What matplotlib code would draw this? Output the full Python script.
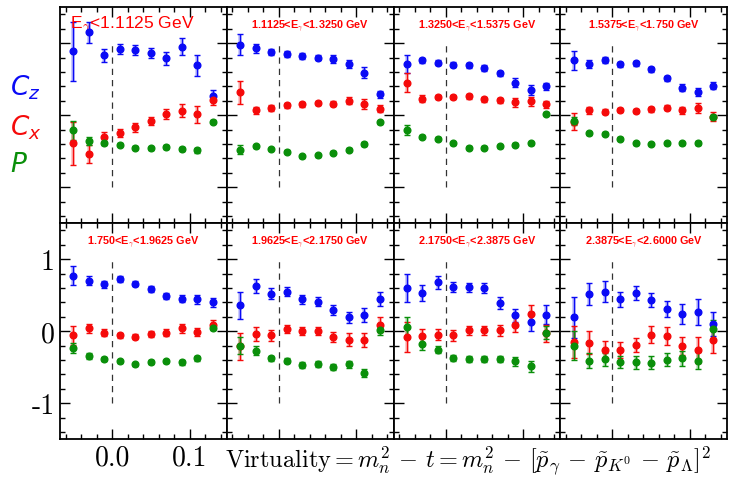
import numpy as np
import matplotlib
matplotlib.use("Agg")
import matplotlib.pyplot as plt
from matplotlib.ticker import MultipleLocator, FuncFormatter

plt.rcParams["mathtext.fontset"] = "cm"
plt.rcParams["axes.unicode_minus"] = False

# bin centres of the virtuality axis
x_bins = [-0.05, -0.03, -0.01, 0.01, 0.03, 0.05, 0.07, 0.09, 0.11, 0.13]

e_labels = [
    r"E$_\gamma$<1.1125 GeV",
    r"1.1125<E$_\gamma$<1.3250 GeV",
    r"1.3250<E$_\gamma$<1.5375 GeV",
    r"1.5375<E$_\gamma$<1.750 GeV",
    r"1.750<E$_\gamma$<1.9625 GeV",
    r"1.9625<E$_\gamma$<2.1750 GeV",
    r"2.1750<E$_\gamma$<2.3875 GeV",
    r"2.3875<E$_\gamma$<2.6000 GeV",
]

cz = [
    [0.89, 1.15, 0.83, 0.92, 0.90, 0.86, 0.79, 0.95, 0.69, 0.27],
    [0.98, 0.93, 0.88, 0.85, 0.82, 0.80, 0.78, 0.71, 0.59, 0.29],
    [0.71, 0.76, 0.73, 0.70, 0.69, 0.66, 0.58, 0.45, 0.35, 0.40],
    [0.76, 0.71, 0.77, 0.71, 0.72, 0.64, 0.51, 0.38, 0.32, 0.41],
    [0.77, 0.70, 0.65, 0.72, 0.66, 0.58, 0.49, 0.45, 0.44, 0.40],
    [0.36, 0.63, 0.52, 0.55, 0.44, 0.41, 0.29, 0.19, 0.22, 0.45],
    [0.60, 0.53, 0.68, 0.61, 0.61, 0.60, 0.39, 0.22, 0.13, 0.23],
    [0.19, 0.52, 0.55, 0.44, 0.53, 0.43, 0.31, 0.24, 0.26, 0.10],
]
cz_err = [
    [0.41, 0.15, 0.09, 0.07, 0.07, 0.07, 0.09, 0.12, 0.14, 0.08],
    [0.15, 0.06, 0.04, 0.04, 0.04, 0.04, 0.05, 0.06, 0.08, 0.05],
    [0.13, 0.04, 0.04, 0.035, 0.035, 0.04, 0.04, 0.06, 0.07, 0.05],
    [0.13, 0.05, 0.04, 0.035, 0.035, 0.035, 0.04, 0.05, 0.06, 0.05],
    [0.13, 0.06, 0.05, 0.04, 0.035, 0.04, 0.04, 0.05, 0.06, 0.06],
    [0.19, 0.10, 0.08, 0.06, 0.06, 0.06, 0.07, 0.08, 0.10, 0.10],
    [0.20, 0.11, 0.09, 0.07, 0.065, 0.065, 0.08, 0.09, 0.13, 0.13],
    [0.29, 0.155, 0.14, 0.10, 0.10, 0.10, 0.11, 0.135, 0.18, 0.17],
]
cx = [
    [-0.39, -0.54, -0.30, -0.25, -0.17, -0.08, 0.02, 0.06, 0.01, 0.21],
    [0.32, 0.07, 0.10, 0.14, 0.15, 0.17, 0.16, 0.20, 0.16, 0.09],
    [0.45, 0.23, 0.25, 0.25, 0.26, 0.22, 0.21, 0.18, 0.19, 0.15],
    [-0.09, 0.07, 0.05, 0.07, 0.06, 0.08, 0.10, 0.07, 0.10, -0.02],
    [-0.06, 0.04, -0.02, -0.06, -0.08, -0.04, -0.02, 0.04, -0.01, 0.09],
    [-0.21, -0.04, -0.06, 0.03, 0.0, 0.0, -0.08, -0.12, -0.12, 0.09],
    [-0.08, -0.07, -0.05, -0.06, 0.01, 0.01, 0.01, 0.09, 0.24, -0.03],
    [-0.15, -0.16, -0.26, -0.26, -0.19, -0.05, -0.07, -0.21, -0.26, -0.13],
]
cx_err = [
    [0.30, 0.12, 0.07, 0.06, 0.06, 0.06, 0.07, 0.09, 0.12, 0.07],
    [0.16, 0.05, 0.04, 0.035, 0.03, 0.03, 0.035, 0.05, 0.07, 0.05],
    [0.13, 0.05, 0.03, 0.03, 0.03, 0.035, 0.035, 0.06, 0.06, 0.05],
    [0.12, 0.05, 0.04, 0.03, 0.03, 0.03, 0.035, 0.05, 0.07, 0.06],
    [0.13, 0.06, 0.05, 0.035, 0.035, 0.035, 0.045, 0.06, 0.06, 0.065],
    [0.19, 0.10, 0.08, 0.06, 0.06, 0.06, 0.065, 0.09, 0.10, 0.10],
    [0.21, 0.10, 0.08, 0.075, 0.06, 0.06, 0.075, 0.10, 0.12, 0.12],
    [0.22, 0.16, 0.12, 0.11, 0.10, 0.115, 0.125, 0.125, 0.18, 0.17],
]
p = [
    [-0.21, -0.36, -0.39, -0.41, -0.45, -0.46, -0.44, -0.47, -0.49, -0.09],
    [-0.48, -0.43, -0.47, -0.51, -0.57, -0.56, -0.52, -0.48, -0.40, -0.10],
    [-0.21, -0.30, -0.33, -0.39, -0.45, -0.45, -0.43, -0.41, -0.39, 0.02],
    [-0.08, -0.25, -0.26, -0.33, -0.39, -0.40, -0.39, -0.39, -0.39, -0.03],
    [-0.23, -0.35, -0.39, -0.42, -0.46, -0.43, -0.42, -0.43, -0.38, 0.05],
    [-0.20, -0.27, -0.38, -0.41, -0.47, -0.46, -0.50, -0.46, -0.58, 0.01],
    [0.06, -0.18, -0.26, -0.37, -0.39, -0.39, -0.39, -0.42, -0.49, -0.02],
    [-0.20, -0.41, -0.39, -0.43, -0.43, -0.44, -0.40, -0.38, -0.41, 0.03],
]
p_err = [
    [0.13, 0.05, 0.03, 0.02, 0.02, 0.02, 0.025, 0.03, 0.035, 0.02],
    [0.06, 0.02, 0.02, 0.02, 0.02, 0.02, 0.02, 0.02, 0.03, 0.02],
    [0.07, 0.02, 0.02, 0.02, 0.02, 0.02, 0.02, 0.02, 0.02, 0.02],
    [0.05, 0.02, 0.02, 0.02, 0.02, 0.02, 0.02, 0.02, 0.025, 0.03],
    [0.07, 0.04, 0.025, 0.02, 0.02, 0.025, 0.025, 0.035, 0.04, 0.03],
    [0.12, 0.06, 0.04, 0.035, 0.04, 0.04, 0.045, 0.05, 0.06, 0.06],
    [0.13, 0.08, 0.05, 0.04, 0.04, 0.04, 0.04, 0.06, 0.075, 0.09],
    [0.20, 0.10, 0.09, 0.085, 0.09, 0.09, 0.09, 0.11, 0.115, 0.12],
]

BLUE, RED, GREEN = "#0a0af5", "#f50a0a", "#0a8f0a"

fig, axes = plt.subplots(2, 4, figsize=(7.33, 4.81), dpi=100)
fig.subplots_adjust(left=0.082, right=0.992, top=0.983, bottom=0.085,
                    wspace=0, hspace=0)

for i, ax in enumerate(axes.flat):
    for vals, errs, col in [(cz[i], cz_err[i], BLUE), (cx[i], cx_err[i], RED),
                            (p[i], p_err[i], GREEN)]:
        # faint wide bar behind the error bar
        ax.errorbar(x_bins, vals, yerr=errs, fmt="none", ecolor=col,
                    elinewidth=2.6, alpha=0.25, capsize=0)
        ax.errorbar(x_bins, vals, yerr=errs, fmt="o", color=col, ms=4.8,
                    elinewidth=1.0, capsize=2.2, capthick=1.0, zorder=3)

    # dashed line at zero virtuality
    ax.vlines(0.0, -1.0, 0.97, colors="#333333", linestyles=(0, (5, 4)), lw=0.9)

    ax.set_xlim(-0.067, 0.148)
    ax.set_ylim(-1.5, 1.5)
    ax.xaxis.set_major_locator(MultipleLocator(0.1))
    ax.xaxis.set_minor_locator(MultipleLocator(0.02))
    ax.yaxis.set_major_locator(MultipleLocator(1))
    ax.yaxis.set_minor_locator(MultipleLocator(0.2))
    ax.tick_params(which="both", direction="in", top=True, right=True,
                   width=1.0, labelbottom=False, labelleft=False)
    ax.tick_params(which="major", length=7)
    ax.tick_params(which="minor", length=3.5)
    for s in ax.spines.values():
        s.set_linewidth(1.3)

    if i == 0:
        ax.text(0.06, 0.92, e_labels[i], transform=ax.transAxes, ha="left",
                va="center", color="red", fontsize=12.5, family="Liberation Sans")
    else:
        ax.text(0.5, 0.915, e_labels[i], transform=ax.transAxes, ha="center",
                va="center", color="red", fontsize=7.8, fontweight="bold",
                family="Liberation Sans")

ax = axes[1, 0]
ax.tick_params(which="major", labelbottom=True, labelleft=True, pad=4)
ax.xaxis.set_major_formatter(FuncFormatter(lambda v, pos: f"{v:.1f}"))
ax.yaxis.set_major_formatter(FuncFormatter(lambda v, pos: f"{v:.0f}".replace("\u2212", "-")))
for lab in ax.get_xticklabels() + ax.get_yticklabels():
    lab.set_fontfamily("cmr10")
    lab.set_fontsize(20)

# series labels in the left margin
for txt, col, yy in [(r"$C_z$", BLUE, 0.818), (r"$C_x$", RED, 0.735),
                     (r"$P$", GREEN, 0.657)]:
    fig.text(0.013, yy, txt, color=col, fontsize=19, ha="left", va="center",
             math_fontfamily="dejavusans")

fig.text(0.307, 0.029,
         r"$\mathrm{Virtuality}{=}m_n^2\,-\,t = m_n^2\,-\,[\tilde{p}_\gamma\,-\,\tilde{p}_{K^0}\,-\,\tilde{p}_\Lambda]^2$",
         fontsize=17.5, ha="left", va="baseline")

fig.savefig("out.png", dpi=100)
